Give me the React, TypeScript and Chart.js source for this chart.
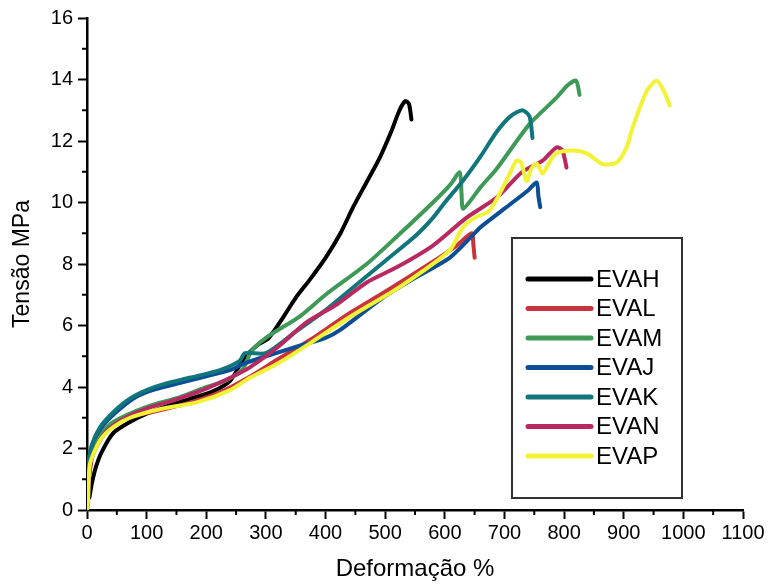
import React, { useEffect, useRef } from "react";
import { Chart, registerables } from "chart.js";

Chart.register(...registerables);

const seriesNames = ["EVAH", "EVAL", "EVAM", "EVAJ", "EVAK", "EVAN", "EVAP"];
const seriesColors = ["#000000", "#c9333d", "#3f9a58", "#0b4e95", "#11767c", "#b92861", "#f2f236"];

const evahX = [4, 8, 15, 25, 44, 72, 100, 130, 170, 210, 240, 262, 285, 305, 330, 350, 374, 400, 425, 446, 470, 491, 510, 524, 534, 540, 544];
const evahY = [0.4, 0.85, 1.4, 1.9, 2.5, 2.86, 3.13, 3.35, 3.6, 3.85, 4.2, 4.9, 5.35, 5.6, 6.3, 6.9, 7.5, 8.2, 9.0, 9.84, 10.7, 11.46, 12.3, 13.0, 13.3, 13.2, 12.7];

const evalX = [0, 3, 10, 30, 60, 100, 156, 223, 270, 320, 380, 440, 500, 574, 620, 645, 648, 650];
const evalY = [0, 1.0, 1.9, 2.55, 2.95, 3.15, 3.4, 3.83, 4.3, 4.9, 5.6, 6.4, 7.1, 8.0, 8.6, 9.0, 8.6, 8.2];

const evamX = [0, 3, 10, 25, 44, 100, 156, 201, 234, 262, 275, 300, 357, 400, 469, 520, 580, 610, 625, 628, 631, 660, 687, 742, 787, 805, 820, 826];
const evamY = [0, 1.2, 2.0, 2.5, 2.86, 3.35, 3.67, 4.0, 4.22, 4.6, 5.15, 5.6, 6.3, 7.0, 8.0, 8.9, 10.0, 10.6, 10.98, 10.3, 9.8, 10.5, 11.1, 12.55, 13.4, 13.8, 13.96, 13.5];

const evajX = [0, 3, 10, 25, 50, 80, 110, 150, 200, 240, 262, 300, 350, 400, 424, 496, 552, 608, 645, 660, 700, 740, 754, 757, 760];
const evajY = [0, 1.6, 2.2, 2.7, 3.2, 3.65, 3.9, 4.1, 4.35, 4.55, 4.75, 5.0, 5.3, 5.6, 5.85, 6.9, 7.57, 8.2, 8.9, 9.2, 9.8, 10.4, 10.65, 10.2, 9.85];

const evakX = [0, 2, 8, 22, 45, 70, 100, 130, 172, 223, 256, 265, 300, 350, 400, 450, 500, 550, 580, 600, 630, 660, 687, 710, 730, 742, 747];
const evakY = [0, 1.4, 2.1, 2.7, 3.2, 3.6, 3.9, 4.1, 4.3, 4.55, 4.85, 5.1, 5.1, 5.8, 6.5, 7.3, 8.1, 8.9, 9.5, 10.0, 10.7, 11.5, 12.3, 12.8, 13.0, 12.8, 12.1];

const evanX = [0, 3, 10, 30, 60, 100, 150, 200, 240, 273, 320, 368, 420, 469, 520, 580, 636, 687, 730, 764, 787, 797, 804];
const evanY = [0, 1.0, 1.8, 2.5, 2.95, 3.3, 3.6, 3.95, 4.3, 4.64, 5.3, 6.1, 6.7, 7.4, 7.9, 8.6, 9.5, 10.16, 11.0, 11.36, 11.79, 11.7, 11.14];

const evapX = [0, 2, 5, 22, 44, 72, 127, 184, 240, 273, 323, 380, 440, 524, 608, 630, 650, 675, 703, 720, 728, 737, 745, 754, 764, 775, 787, 814, 838, 865, 888, 905, 915, 938, 955, 968, 977];
const evapY = [0, 0.4, 1.5, 2.27, 2.7, 3.0, 3.3, 3.5, 3.9, 4.3, 4.8, 5.5, 6.27, 7.25, 8.44, 9.19, 9.5, 9.74, 10.7, 11.36, 11.3, 10.7, 11.1, 11.27, 10.94, 11.3, 11.6, 11.69, 11.6, 11.25, 11.3, 11.8, 12.45, 13.6, 13.96, 13.6, 13.15];

const seriesX = [evahX, evalX, evamX, evajX, evakX, evanX, evapX];
const seriesY = [evahY, evalY, evamY, evajY, evakY, evanY, evapY];
const drawOrder = [6, 5, 4, 3, 2, 1, 0];

const xMajorStep = 100;
const yMajorStep = 2;
const xMinorTicks = [50, 150, 250, 350, 450, 550, 650, 750, 850, 950, 1050];
const yMinorTicks = [1, 3, 5, 7, 9, 11, 13, 15];

const FONT = "'Liberation Sans', Arial, Helvetica, sans-serif";

const minorTickPlugin = {
  id: "minorTicks",
  afterDraw(chart: any) {
    const { ctx, chartArea } = chart;
    const xs = chart.scales.x;
    const ys = chart.scales.y;
    ctx.save();
    ctx.strokeStyle = "#000";
    ctx.lineWidth = 2;
    for (const v of xMinorTicks) {
      const px = xs.getPixelForValue(v);
      ctx.beginPath();
      ctx.moveTo(px, chartArea.bottom);
      ctx.lineTo(px, chartArea.bottom + 5);
      ctx.stroke();
    }
    for (const v of yMinorTicks) {
      const py = ys.getPixelForValue(v);
      ctx.beginPath();
      ctx.moveTo(chartArea.left, py);
      ctx.lineTo(chartArea.left - 5, py);
      ctx.stroke();
    }
    ctx.restore();
  },
};

const legendBoxPlugin = {
  id: "legendBox",
  afterDraw(chart: any) {
    const { ctx } = chart;
    const left = 512, top = 238, right = 682, bottom = 498;
    ctx.save();
    ctx.fillStyle = "#fff";
    ctx.fillRect(left, top, right - left, bottom - top);
    ctx.strokeStyle = "#333";
    ctx.lineWidth = 2;
    ctx.strokeRect(left, top, right - left, bottom - top);
    ctx.font = `24px ${FONT}`;
    ctx.textBaseline = "middle";
    ctx.textAlign = "left";
    chart.data.datasets.forEach((ds: any, i: number) => {
      const y = 279 + i * 29.5;
      ctx.strokeStyle = ds.borderColor;
      ctx.lineWidth = 5;
      ctx.lineCap = "round";
      ctx.beginPath();
      ctx.moveTo(528, y);
      ctx.lineTo(591, y);
      ctx.stroke();
      ctx.fillStyle = "#000";
      ctx.fillText(ds.label, 596, y + 1);
    });
    ctx.restore();
  },
};

export default function App() {
  const ref = useRef<HTMLCanvasElement | null>(null);
  useEffect(() => {
    if (!ref.current) return;
    const datasets = seriesNames.map((name, i) => ({
      label: name,
      data: seriesX[i].map((x, j) => ({ x, y: seriesY[i][j] })),
      borderColor: seriesColors[i],
      backgroundColor: seriesColors[i],
      borderWidth: 4,
      pointRadius: 0,
      tension: 0.25,
      borderCapStyle: "round",
      borderJoinStyle: "round",
      fill: false,
      order: drawOrder[i],
    }));
    const chart = new Chart(ref.current, {
      type: "line",
      data: { datasets } as any,
      options: {
        animation: false,
        responsive: false,
        layout: { padding: { top: 18, right: 25, left: 0, bottom: 0 } },
        plugins: { legend: { display: false }, tooltip: { enabled: false } },
        scales: {
          x: {
            type: "linear",
            min: 0,
            max: 1100,
            ticks: { stepSize: xMajorStep, color: "#000", font: { size: 20, family: FONT }, padding: 2, maxRotation: 0, callback: (v: any) => String(v) },
            grid: { drawOnChartArea: false, drawTicks: true, tickLength: 9, tickColor: "#000", tickWidth: 2 },
            border: { color: "#000", width: 2.5 },
            title: { display: true, text: "Deformação %", color: "#000", font: { size: 24, family: FONT }, padding: { top: 0, bottom: 4 } },
            afterFit: (s: any) => { s.height = 78; },
          },
          y: {
            type: "linear",
            min: 0,
            max: 16,
            ticks: { stepSize: yMajorStep, color: "#000", font: { size: 20, family: FONT }, padding: 5, callback: (v: any) => String(v) },
            grid: { drawOnChartArea: false, drawTicks: true, tickLength: 9, tickColor: "#000", tickWidth: 2 },
            border: { color: "#000", width: 2.5 },
            title: { display: true, text: "Tensão MPa", color: "#000", font: { size: 23, family: FONT }, padding: { top: 9, bottom: 0 } },
            afterFit: (s: any) => { s.width = 87; },
          },
        },
      } as any,
      plugins: [minorTickPlugin, legendBoxPlugin],
    });
    return () => chart.destroy();
  }, []);
  return (
    <div style={{ position: "absolute", left: 0, top: 0, width: 768, height: 588, background: "#fff" }}>
      <canvas ref={ref} width={768} height={588} style={{ display: "block" }} />
    </div>
  );
}
